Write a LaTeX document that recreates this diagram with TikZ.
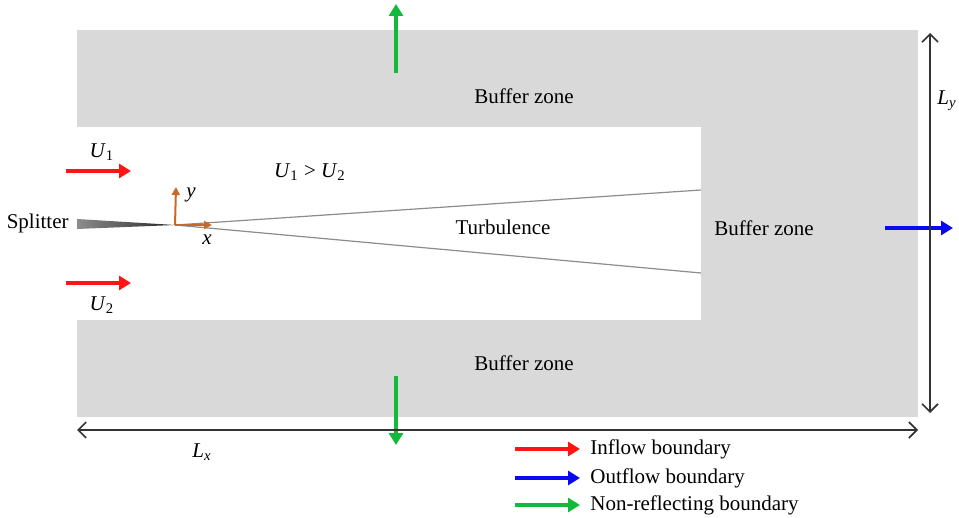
\documentclass[tikz,border=0pt]{standalone}
\usepackage{fontspec}
\setmainfont{Liberation Serif}
\usepackage{tikz}
\usetikzlibrary{calc,arrows.meta}

\definecolor{zonegray}{RGB}{217,217,217}
\definecolor{inred}{RGB}{255,20,20}
\definecolor{outblue}{RGB}{10,10,240}
\definecolor{nrgreen}{RGB}{20,185,60}
\definecolor{axorange}{RGB}{200,105,40}

% Italic symbol with a subscript, in the text font
\newcommand{\symsub}[2]{\textit{#1}\textsubscript{#2}}

\tikzset{
    bc/.style={line width=2pt, -{Triangle[length=6pt, width=7pt]}},
    dim/.style={thick, black!80, {Straight Barb[length=4pt]}-{Straight Barb[length=4pt]}},
    lbl/.style={font=\fontsize{10.5}{12}\selectfont, inner sep=1pt}
}

\begin{document}
\begin{tikzpicture}[x=0.5pt, y=-0.5pt]

        \useasboundingbox (0, 0) rectangle (959, 518);

        % Corners of the domain and of the inner flow region
        \coordinate (O1) at (77, 30);
        \coordinate (O2) at (918, 417);
        \coordinate (I1) at (77, 127);
        \coordinate (I2) at (701, 320);

        % Origin of the splitter tip and ends of the shear layer
        \coordinate (S0) at (175, 225);
        \coordinate (E1) at (701, 190);
        \coordinate (E2) at (701, 273);

        % Buffer zones and inner region
        \fill[zonegray] (O1) rectangle (O2);
        \fill[white] (I1) rectangle (I2);

        % Splitter plate
        \shade[left color=black!45, right color=black!85]
            (77, 219) -- (S0) -- (77, 229) -- cycle;
        \node[lbl, anchor=east] (split) at (71, 223) {Splitter};

        % Shear layer edges
        \begin{scope}[black!45, semithick]
            \draw (S0) -- (E1);
            \draw (S0) -- (E2);
        \end{scope}

        % Local axes
        \begin{scope}[axorange, line width=1pt, -{Triangle[length=4pt, width=4pt]}]
            \draw (S0) -- (176, 187) coordinate (ya);
            \draw (S0) -- (212, 225) coordinate (xa);
        \end{scope}
        \node[lbl] (ylab) at (191, 195) {\textit{y}};
        \node[lbl] (xlab) at (207, 240) {\textit{x}};

        % Labels inside the domain
        \node[lbl] (buf1) at (524, 96) {Buffer zone};
        \node[lbl] (buf2) at (764, 228) {Buffer zone};
        \node[lbl] (buf3) at (524, 363) {Buffer zone};
        \node[lbl] (turb) at (503, 227) {Turbulence};
        \node[lbl] (cond) at (310, 172) {\symsub{U}{1} \textgreater{} \symsub{U}{2}};

        % Inflow
        \coordinate (R1) at (66, 171);
        \coordinate (R2) at (66, 283);
        \draw[bc, inred] (R1) -- ++(65, 0);
        \draw[bc, inred] (R2) -- ++(65, 0);
        \node[lbl] (u1) at (102, 152) {\symsub{U}{1}};
        \node[lbl] (u2) at (102, 305) {\symsub{U}{2}};

        % Outflow and non-reflecting boundaries
        \draw[bc, outblue] (885, 228) -- (953, 228);
        \draw[bc, nrgreen] (396, 73) -- (396, 4);
        \draw[bc, nrgreen] (396, 376) -- (396, 445);

        % Domain size
        \draw[dim] (930, 33) -- (930, 413);
        \draw[dim] (77, 430) -- (918, 430);
        \node[lbl] (ly) at (947, 101) {\symsub{L}{\textit{y}}};
        \node[lbl] (lx) at (202, 452) {\symsub{L}{\textit{x}}};

        % Legend
        \begin{scope}[lbl, anchor=west]
            \draw[bc, inred] (515, 449) -- (580, 449);
            \node (leg1) at (588, 449) {Inflow boundary};
            \draw[bc, outblue] (515, 478) -- (580, 478);
            \node (leg2) at (588, 478) {Outflow boundary};
            \draw[bc, nrgreen] (515, 505) -- (580, 505);
            \node (leg3) at (588, 505) {Non-reflecting boundary};
        \end{scope}

\end{tikzpicture}
\end{document}
